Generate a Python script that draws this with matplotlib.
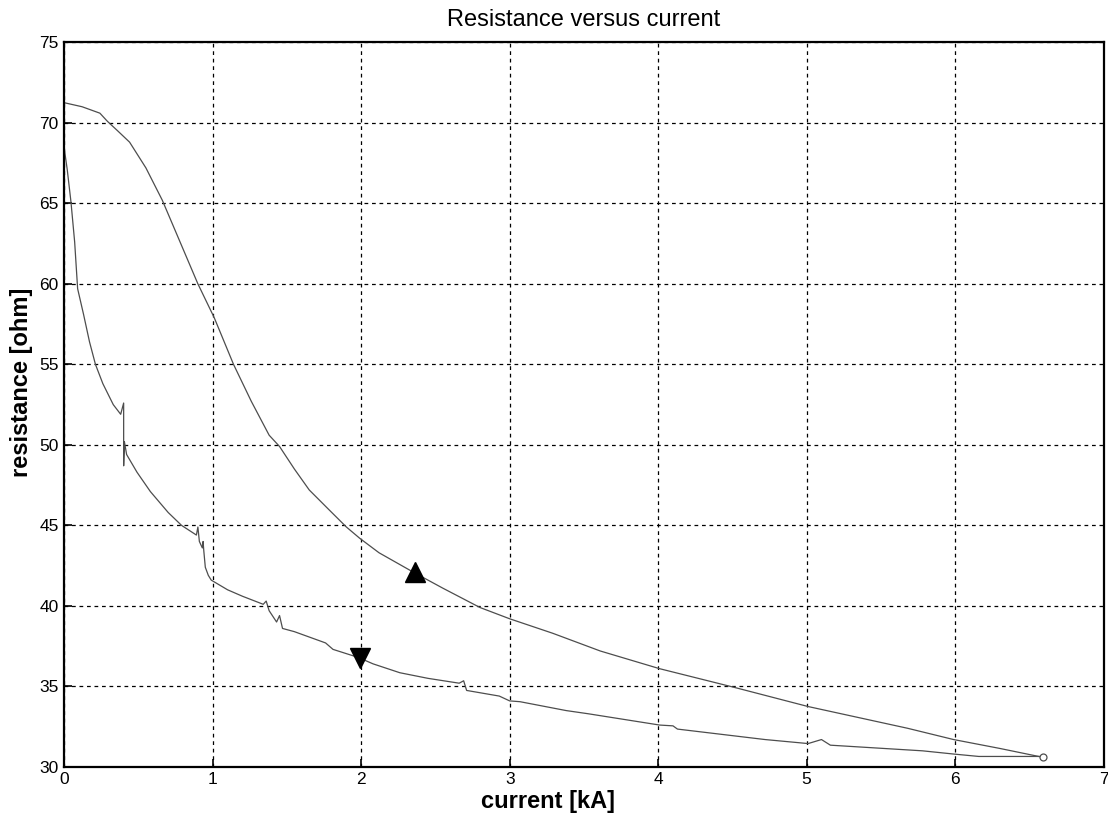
import numpy as np
import matplotlib.pyplot as plt

plt.rcParams['font.family'] = ['Liberation Sans', 'DejaVu Sans']

# rising branch (upper curve), current in kA, resistance in ohm
up_i = [0.00, 0.12, 0.24, 0.29, 0.36, 0.44, 0.55, 0.66, 0.78, 0.90, 1.01,
        1.14, 1.26, 1.38, 1.45, 1.55, 1.65, 1.78, 1.90, 1.99, 2.12, 2.35,
        2.55, 2.80, 3.00, 3.29, 3.61, 4.01, 4.53, 5.01, 5.68, 5.99, 6.30, 6.59]
up_r = [71.25, 71.0, 70.6, 70.1, 69.5, 68.8, 67.2, 65.2, 62.6, 60.0, 57.9,
        55.0, 52.7, 50.6, 49.9, 48.5, 47.2, 46.0, 44.9, 44.2, 43.3, 42.1,
        41.1, 39.9, 39.2, 38.3, 37.2, 36.1, 34.9, 33.75, 32.4, 31.7, 31.15, 30.6]

# falling branch (lower curve)
dn_i = [0.00, 0.02, 0.045, 0.07, 0.09, 0.13, 0.17, 0.21, 0.26, 0.33, 0.38,
        0.40, 0.40, 0.405, 0.42, 0.49, 0.58, 0.70, 0.79, 0.89, 0.90, 0.91,
        0.93, 0.935, 0.94, 0.95, 0.97, 0.99, 1.10, 1.20, 1.34, 1.36, 1.38,
        1.43, 1.45, 1.47, 1.55, 1.76, 1.81, 1.98, 2.08, 2.26, 2.45, 2.66,
        2.69, 2.71, 2.93, 3.00, 3.07, 3.38, 3.53, 4.01, 4.10, 4.13, 4.72,
        5.01, 5.10, 5.16, 5.78, 5.99, 6.16, 6.59]
dn_r = [68.4, 67.1, 65.1, 62.6, 59.7, 58.1, 56.4, 55.0, 53.8, 52.5, 51.9,
        52.6, 48.7, 50.2, 49.4, 48.3, 47.1, 45.8, 45.0, 44.4, 44.9, 44.0,
        43.6, 44.0, 43.4, 42.4, 41.9, 41.6, 41.0, 40.6, 40.1, 40.3, 39.7,
        39.0, 39.4, 38.6, 38.4, 37.7, 37.3, 36.8, 36.4, 35.85, 35.5, 35.2,
        35.35, 34.75, 34.4, 34.1, 34.05, 33.5, 33.3, 32.6, 32.55, 32.35, 31.7,
        31.45, 31.7, 31.35, 31.0, 30.8, 30.65, 30.65]

# direction markers and end point
up_mark = (2.36, 42.1)
dn_mark = (1.99, 36.75)
end_pt = (6.59, 30.6)

x_ticks = [0, 1, 2, 3, 4, 5, 6, 7]
y_ticks = [30, 35, 40, 45, 50, 55, 60, 65, 70, 75]

fig = plt.figure(figsize=(11.08, 8.30), dpi=100)
ax = fig.add_axes([0.058, 0.076, 0.938, 0.873])

ax.plot(up_i, up_r, color='0.3', lw=0.9)
ax.plot(dn_i, dn_r, color='0.3', lw=0.9)
ax.plot(*up_mark, marker='^', ms=15, color='black', mec='black')
ax.plot(*dn_mark, marker='v', ms=15, color='black', mec='black')
ax.plot(*end_pt, marker='o', ms=5, mfc='white', mec='0.3', mew=0.9)

ax.set_xlim(0, 7)
ax.set_ylim(30, 75)
ax.set_xticks(x_ticks)
ax.set_yticks(y_ticks)
ax.grid(True, color='black', linestyle=(0, (3, 3)), linewidth=0.9)
ax.tick_params(direction='in', length=6, width=1.2, labelsize=12.5,
               top=False, right=False, pad=4)
for s in ax.spines.values():
    s.set_linewidth(1.6)

ax.set_title('Resistance versus current', fontsize=17, pad=12)
ax.set_xlabel('current [kA]', fontsize=17, fontweight='bold')
ax.set_ylabel('resistance [ohm]', fontsize=17, fontweight='bold')
ax.xaxis.set_label_coords(0.465, -0.032)
ax.yaxis.set_label_coords(-0.030, 0.531)

fig.savefig('out.png', dpi=100)
